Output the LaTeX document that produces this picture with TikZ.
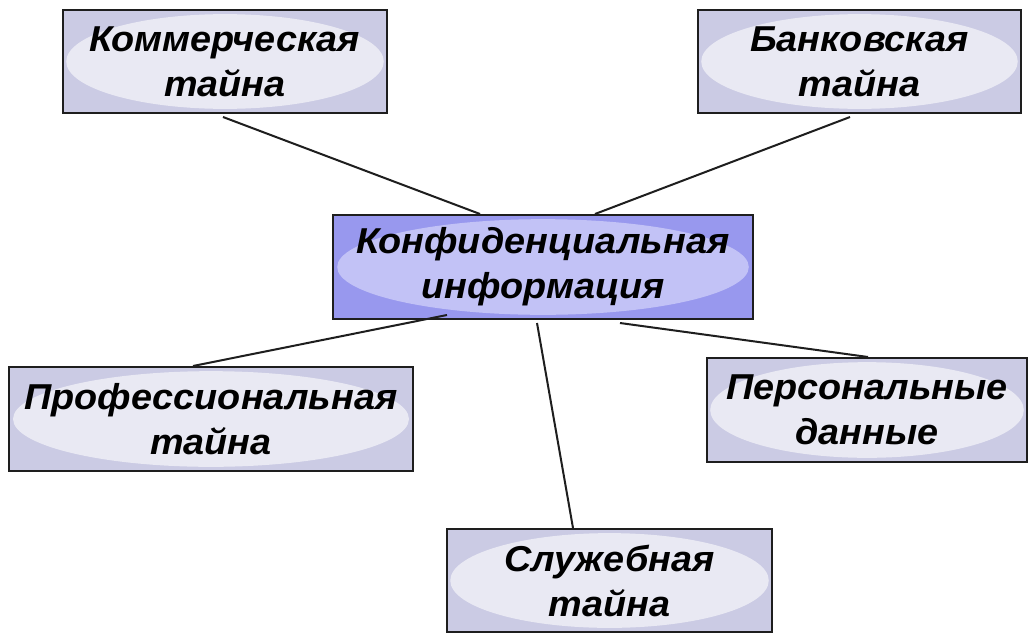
\documentclass[tikz,border=0pt]{standalone}
\usepackage{fontspec}
\setmainfont{Liberation Sans}[FakeStretch=1.05]
\usetikzlibrary{calc}
\definecolor{boxfill}{HTML}{CBCBE4}
\definecolor{ellfill}{HTML}{E9E9F3}
\definecolor{cboxfill}{HTML}{9898EE}
\definecolor{cellfill}{HTML}{C2C2F6}
\definecolor{edge}{HTML}{1E1E1E}
\tikzset{
  ellbox/.style={
    rectangle, draw=edge, line width=2pt, fill=boxfill, align=center,
    inner sep=0pt,
    font=\fontsize{36}{45}\selectfont\bfseries\itshape,
    path picture={
      \fill[ellfill] let \p1=($(path picture bounding box.north east)-(path picture bounding box.south west)$) in
        (path picture bounding box.center) ellipse ({0.49*\x1} and {0.46*\y1});
    }
  },
  cbox/.style={
    ellbox, fill=cboxfill,
    path picture={
      \fill[cellfill] let \p1=($(path picture bounding box.north east)-(path picture bounding box.south west)$) in
        (path picture bounding box.center) ellipse ({0.49*\x1} and {0.46*\y1});
    }
  },
  conn/.style={draw=edge, line width=2pt}
}
\begin{document}
\begin{tikzpicture}[x=1pt,y=-1pt]
\useasboundingbox[fill=white] (0,0) rectangle (1030,640);
\node[ellbox, minimum width=324pt, minimum height=103pt] (kom) at (225,61.5) {Коммерческая\\тайна};
\node[ellbox, minimum width=323pt, minimum height=103pt] (bank) at (859.5,61.5) {Банковская\\тайна};
\node[cbox, minimum width=420pt, minimum height=104pt] (conf) at (543,267) {Конфиденциальная\\информация};
\node[ellbox, minimum width=404pt, minimum height=104pt] (prof) at (211,419) {Профессиональная\\тайна};
\node[ellbox, minimum width=320pt, minimum height=104pt] (pers) at (867,410) {Персональные\\данные};
\node[ellbox, minimum width=325pt, minimum height=103pt] (sluz) at (609.5,580.5) {Служебная\\тайна};
\draw[conn] ([xshift=-2pt,yshift=-3pt]kom.south) -- ([xshift=-63pt]conf.north);
\draw[conn] ([xshift=-9.5pt,yshift=-3pt]bank.south) -- ([xshift=52pt]conf.north);
\draw[conn] ([xshift=-96pt,yshift=5pt]conf.south) -- ([xshift=-18pt]prof.north);
\draw[conn] ([xshift=-6pt,yshift=-3pt]conf.south) -- ([xshift=-36.5pt]sluz.north);
\draw[conn] ([xshift=77pt,yshift=-3pt]conf.south) -- ([xshift=1pt]pers.north);
\end{tikzpicture}
\end{document}
